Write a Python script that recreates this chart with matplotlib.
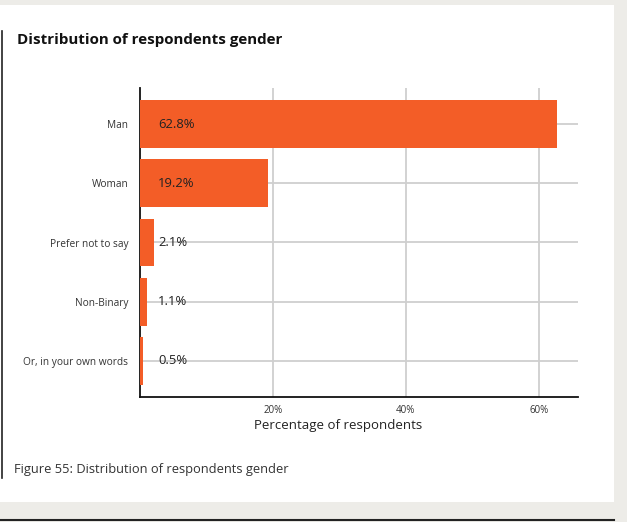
import matplotlib.pyplot as plt
from matplotlib.patches import Rectangle
from matplotlib.transforms import blended_transform_factory

plt.rcParams['font.family'] = ['Open Sans', 'DejaVu Sans']

categories = ["Man", "Woman", "Prefer not to say", "Non-Binary", "Or, in your own words"]
values = [62.8, 19.2, 2.1, 1.1, 0.5]
xticks = [20, 40, 60]
xtick_labels = ["20%", "40%", "60%"]

W, H = 627, 522
fig = plt.figure(figsize=(W / 100, H / 100), dpi=100)
fig.patch.set_facecolor("#edece8")

# white panel + frame lines
fig.patches.append(Rectangle((0, 1 - 502 / H), 614 / W, (502 - 5) / H,
                             transform=fig.transFigure, facecolor="white",
                             edgecolor="none", zorder=-5))
fig.add_artist(plt.Line2D([2 / W, 2 / W], [1 - 31 / H, 1 - 478 / H],
                          transform=fig.transFigure, color="#222222", lw=1.2))
fig.add_artist(plt.Line2D([0, 614 / W], [1 - 520 / H, 1 - 520 / H],
                          transform=fig.transFigure, color="#222222", lw=1.5))

ax = fig.add_axes([140 / W, 1 - 397 / H, (578 - 140) / W, (397 - 88) / H])
ax.set_facecolor("none")
ax.set_zorder(2)

y = list(range(len(categories)))
ax.barh(y, values, height=0.81, color="#f35d27", zorder=3)
ax.set_ylim(len(categories) - 1 + 0.61, -0.61)
ax.set_xlim(0, 65.9)

ax.set_yticks(y)
ax.set_yticklabels(categories, fontsize=7.3, color="#333333")
ax.set_xticks(xticks)
ax.set_xticklabels(xtick_labels, fontsize=7, color="#333333")
ax.tick_params(axis="both", length=0)
ax.tick_params(axis="y", pad=8.5)
ax.tick_params(axis="x", pad=6)

ax.grid(True, color="#cfcfcf", lw=1.3, zorder=0)
ax.set_axisbelow(True)
for s in ["top", "right"]:
    ax.spines[s].set_visible(False)
for s in ["left", "bottom"]:
    ax.spines[s].set_color("#111111")
    ax.spines[s].set_linewidth(1.3)

trans = blended_transform_factory(ax.transAxes, ax.transData)
for yi, v in zip(y, values):
    ax.text(18 / 438, yi, f"{v}%", transform=trans, va="center", ha="left",
            fontsize=9.4, color="#222222", fontweight="medium", zorder=4)

fig.text(338 / W, 1 - 425 / H, "Percentage of respondents", ha="center",
         va="center", fontsize=9.5, color="#222222")
fig.text(17 / W, 1 - 40 / H, "Distribution of respondents gender", ha="left",
         va="center", fontsize=10.9, fontweight="bold", color="#111111")
fig.text(14 / W, 1 - 470 / H, "Figure 55: Distribution of respondents gender",
         ha="left", va="center", fontsize=9.3, color="#333333")

fig.savefig("out.png", dpi=100, facecolor=fig.get_facecolor())
